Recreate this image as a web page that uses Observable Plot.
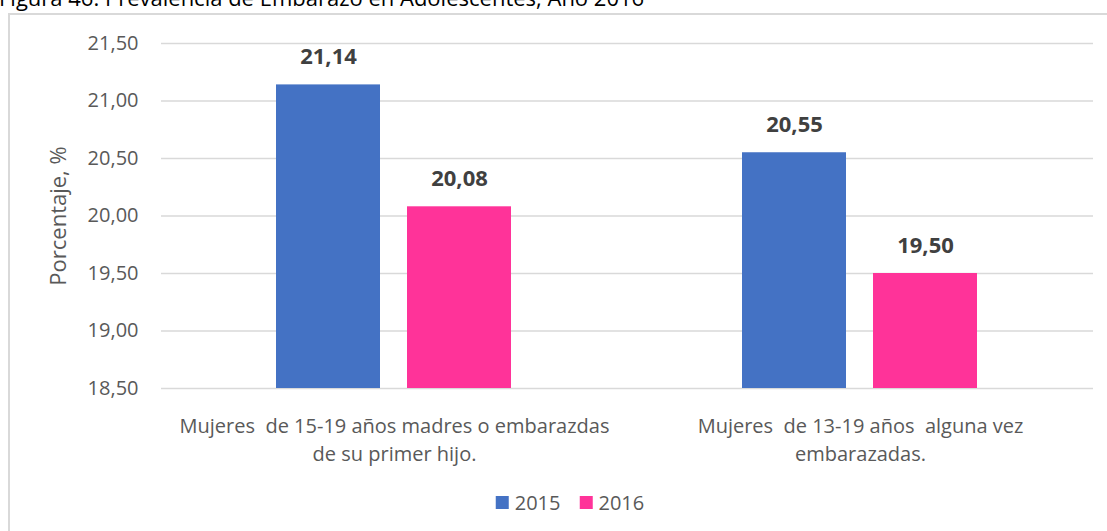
<!DOCTYPE html>
<html>
<head>
<meta charset="utf-8">
<script src="https://cdn.jsdelivr.net/npm/d3@7"></script>
<script src="https://cdn.jsdelivr.net/npm/@observablehq/plot@0.6"></script>
<style>
  html, body { margin: 0; padding: 0; background: #fff; }
  body { width: 1107px; height: 531px; position: relative; overflow: hidden; font-family: "Open Sans", sans-serif; }
  #title { position: absolute; left: -1px; top: -17px; font-size: 22px; line-height: 28px; color: #000; white-space: nowrap; }
  #box { position: absolute; left: 8px; top: 13px; width: 1200px; height: 700px; border: 2px solid #d9d9d9; box-sizing: border-box; }
  #chart { position: absolute; left: 0; top: 0; }
  #legend { position: absolute; top: 489px; left: 570px; transform: translateX(-50%); display: flex; gap: 19px; font-size: 20px; color: #595959; white-space: nowrap; }
  #legend .item { display: flex; align-items: center; gap: 6px; }
  #legend .sw { width: 13px; height: 13px; display: inline-block; }
</style>
</head>
<body>
<div id="title">Figura 46. Prevalencia de Embarazo en Adolescentes, Año 2016</div>
<div id="box"></div>
<div id="chart"></div>
<div id="legend"></div>
<script>
const categories = [
  "Mujeres  de 15-19 años madres o embarazdas\nde su primer hijo.",
  "Mujeres  de 13-19 años  alguna vez\nembarazadas."
];
const years = ["2015", "2016"];
const values2015 = [21.14, 20.55];
const values2016 = [20.08, 19.50];
const yTicks = [18.5, 19, 19.5, 20, 20.5, 21, 21.5];
const yLabel = "Porcentaje, %";
const colors = ["#4472C4", "#FF3399"];

const fmt = v => d3.format(".2f")(v).replace(".", ",");

const data = [];
categories.forEach((c, i) => {
  data.push({cat: c, year: years[0], value: values2015[i]});
  data.push({cat: c, year: years[1], value: values2016[i]});
});

const chart = Plot.plot({
  width: 1107,
  height: 470,
  marginLeft: 160,
  marginRight: 14,
  marginTop: 43,
  marginBottom: 82,
  style: {fontFamily: "'Open Sans', sans-serif", color: "#595959", background: "transparent", overflow: "visible"},
  fx: {domain: categories, padding: 0, axis: null},
  x: {domain: years, paddingInner: 0.2045, paddingOuter: 0.869, axis: null},
  y: {domain: [yTicks[0], yTicks[yTicks.length - 1]]},
  color: {domain: years, range: colors},
  marks: [
    Plot.gridY(yTicks, {stroke: "#d9d9d9", strokeOpacity: 1, strokeWidth: 1.5}),
    Plot.axisY(yTicks, {tickSize: 0, tickPadding: 23, fontSize: 20, tickFormat: fmt, label: null}),
    Plot.axisY([], {
      tickSize: 0, fontSize: 22,
      label: yLabel, labelAnchor: "center", labelArrow: "none", labelOffset: 111
    }),
    Plot.barY(data, {fx: "cat", x: "year", y1: yTicks[0], y2: "value", fill: "year"}),
    Plot.text(data, {
      fx: "cat", x: "year", y: "value", text: d => fmt(d.value),
      dy: -21, lineAnchor: "bottom", fontWeight: "bold", fontSize: 22, fill: "#404040"
    }),
    Plot.text(categories, {
      fx: d => d, frameAnchor: "bottom", lineAnchor: "top", dy: 25,
      text: d => d, fontSize: 20, lineHeight: 1.38, fill: "#595959"
    })
  ]
});
document.getElementById("chart").appendChild(chart);

const legend = document.getElementById("legend");
years.forEach((y, i) => {
  const item = document.createElement("span");
  item.className = "item";
  const sw = document.createElement("span");
  sw.className = "sw";
  sw.style.background = colors[i];
  const t = document.createElement("span");
  t.textContent = y;
  item.appendChild(sw);
  item.appendChild(t);
  legend.appendChild(item);
});
</script>
</body>
</html>
